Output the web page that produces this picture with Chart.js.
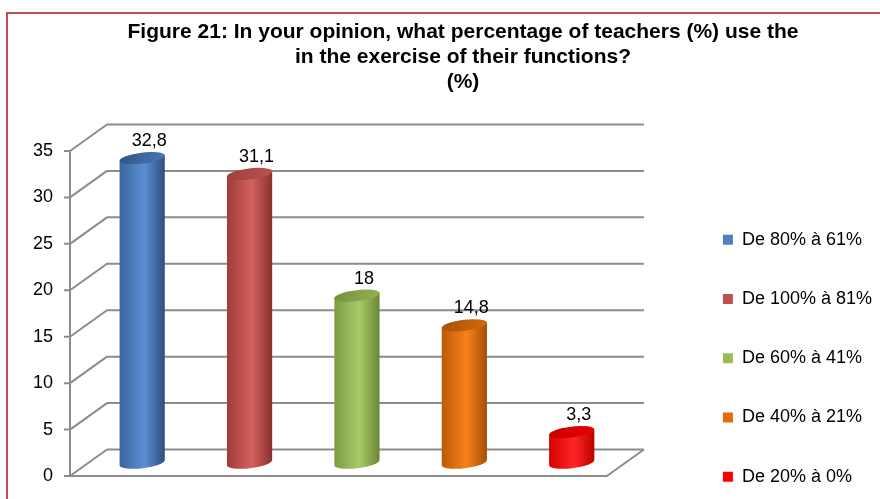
<!DOCTYPE html>
<html>
<head>
<meta charset="utf-8">
<script src="https://cdn.jsdelivr.net/npm/chart.js@4.4.1/dist/chart.umd.min.js"></script>
<style>
  html, body { margin: 0; padding: 0; background: #fff; overflow: hidden; }
  #frame { position: absolute; left: 6px; top: 12px; width: 1000px; height: 600px; border: 2px solid #c0504d; }
  #chart { position: absolute; left: 0; top: 0; }
</style>
</head>
<body>
<div id="frame"></div>
<canvas id="chart" width="882" height="527"></canvas>
<script>
// Data
const titleLines = [
  'Figure 21: In your opinion, what percentage of teachers (%) use the',
  'in the exercise of their functions?',
  '(%)'
];
const seriesNames = ['De 80% à 61%', 'De 100% à 81%', 'De 60% à 41%', 'De 40% à 21%', 'De 20% à 0%'];
const seriesValues = [32.8, 31.1, 18, 14.8, 3.3];
const yMin = 0, yMax = 35, yStep = 5;

// Styles
const seriesColors = ['#4f81bd', '#c0504d', '#9bbb59', '#e46c0a', '#ff0000'];
// [left edge, highlight, right edge, cap dark, cap light]
const shades = [
  ['#3b659d', '#5b8fd3', '#2c4f7e', '#2f5585', '#4a78b3'],
  ['#9e3b38', '#d3625e', '#8a302d', '#9c3f3c', '#b9524e'],
  ['#7d9c43', '#a9ca66', '#6a8634', '#74913d', '#93b356'],
  ['#bd5a07', '#f7811a', '#a44d05', '#a85007', '#d76a0c'],
  ['#d40000', '#ff2626', '#bd0000', '#c40000', '#e80000']
];
const DEPTH_X = 37, DEPTH_Y = -26.5;
const TILT = -0.12;
const TITLE_CENTER = 463;

Chart.defaults.font.family = '"Liberation Sans", Arial, sans-serif';

function drawCylinder(ctx, cx, top, bottom, rx, s) {
  const ry = 5.5;
  const ex = rx * Math.cos(TILT), ey = rx * Math.sin(TILT);
  const g = ctx.createLinearGradient(cx - rx, 0, cx + rx, 0);
  g.addColorStop(0, s[0]);
  g.addColorStop(0.55, s[1]);
  g.addColorStop(1, s[2]);
  ctx.beginPath();
  ctx.moveTo(cx - ex, top - ey);
  ctx.lineTo(cx - ex, bottom - ey);
  ctx.ellipse(cx, bottom, rx, ry, TILT, Math.PI, 0, true);
  ctx.lineTo(cx + ex, top + ey);
  ctx.closePath();
  ctx.fillStyle = g;
  ctx.fill();
  // top cap
  const cg = ctx.createLinearGradient(cx - rx, top - ry, cx + rx, top + ry);
  cg.addColorStop(0, s[3]);
  cg.addColorStop(1, s[4]);
  ctx.beginPath();
  ctx.ellipse(cx, top, rx, ry, TILT, 0, Math.PI * 2);
  ctx.fillStyle = cg;
  ctx.fill();
}

// 3D walls, floor, cylinders and value labels
const threeD = {
  id: 'threeD',
  afterLayout(chart) {
    // centre the title like the original (independent of the legend)
    const t = chart.titleBlock;
    if (t) {
      t.left = 2 * TITLE_CENTER - t.right;
      t.width = t.right - t.left;
    }
  },
  beforeDatasetsDraw(chart) {
    const { ctx, chartArea: a, scales: { y } } = chart;
    ctx.save();
    ctx.strokeStyle = '#8c8c8c';
    ctx.lineWidth = 2;
    ctx.lineJoin = 'bevel';
    ctx.beginPath();
    y.ticks.forEach(t => {
      const py = y.getPixelForValue(t.value);
      ctx.moveTo(a.left - 6, py);
      ctx.lineTo(a.left, py);
      ctx.lineTo(a.left + DEPTH_X, py + DEPTH_Y);
      ctx.lineTo(a.right + DEPTH_X, py + DEPTH_Y);
    });
    ctx.moveTo(a.left, a.top);
    ctx.lineTo(a.left, a.bottom);
    ctx.lineTo(a.right, a.bottom);
    ctx.lineTo(a.right + DEPTH_X, a.bottom + DEPTH_Y);
    ctx.stroke();
    ctx.restore();
  },
  beforeDatasetDraw() { return false; },
  afterDatasetsDraw(chart) {
    const ctx = chart.ctx;
    const mx = DEPTH_X / 2, my = DEPTH_Y / 2;
    ctx.save();
    chart.data.datasets.forEach((ds, i) => {
      const el = chart.getDatasetMeta(i).data[0];
      if (!el) return;
      const cx = el.x + mx;
      drawCylinder(ctx, cx, el.y + my, el.base + my, el.width / 2, shades[i]);
      ctx.fillStyle = '#000';
      ctx.font = '18px "Liberation Sans", Arial, sans-serif';
      ctx.textAlign = 'center';
      ctx.textBaseline = 'middle';
      ctx.fillText(String(ds.data[0]).replace('.', ','), cx + 7, el.y + my - 17);
    });
    ctx.restore();
  }
};

new Chart(document.getElementById('chart'), {
  type: 'bar',
  data: {
    labels: [''],
    datasets: seriesNames.map((name, i) => ({
      label: name,
      data: [seriesValues[i]],
      backgroundColor: seriesColors[i],
      borderWidth: 0,
      barPercentage: 0.424,
      categoryPercentage: 1
    }))
  },
  options: {
    responsive: false,
    animation: false,
    layout: { padding: { left: 28, right: 0, top: 0, bottom: 0 } },
    plugins: {
      title: {
        display: true,
        text: titleLines,
        color: '#000',
        font: { size: 21, weight: 'bold', lineHeight: 1.19 },
        padding: { top: 20, bottom: 56 }
      },
      legend: {
        position: 'right',
        align: 'end',
        maxWidth: 260,
        labels: { boxWidth: 10, boxHeight: 10, padding: 41.25, color: '#000', font: { size: 18 } }
      },
      tooltip: { enabled: false }
    },
    scales: {
      x: {
        ticks: { display: false },
        grid: { display: false, drawTicks: false, tickLength: 0 },
        border: { display: false },
        afterFit(s) { s.height = 51; }
      },
      y: {
        min: yMin,
        max: yMax,
        ticks: { stepSize: yStep, padding: 17, color: '#000', font: { size: 18 } },
        grid: { display: false, drawTicks: false, tickLength: 0 },
        border: { display: false },
        afterFit(s) { s.width = 42; }
      },
      y2: {
        type: 'linear',
        position: 'right',
        ticks: { display: false },
        grid: { display: false, drawTicks: false, tickLength: 0 },
        border: { display: false },
        afterFit(s) { s.width = 74.75; }
      }
    }
  },
  plugins: [threeD]
});
</script>
</body>
</html>
